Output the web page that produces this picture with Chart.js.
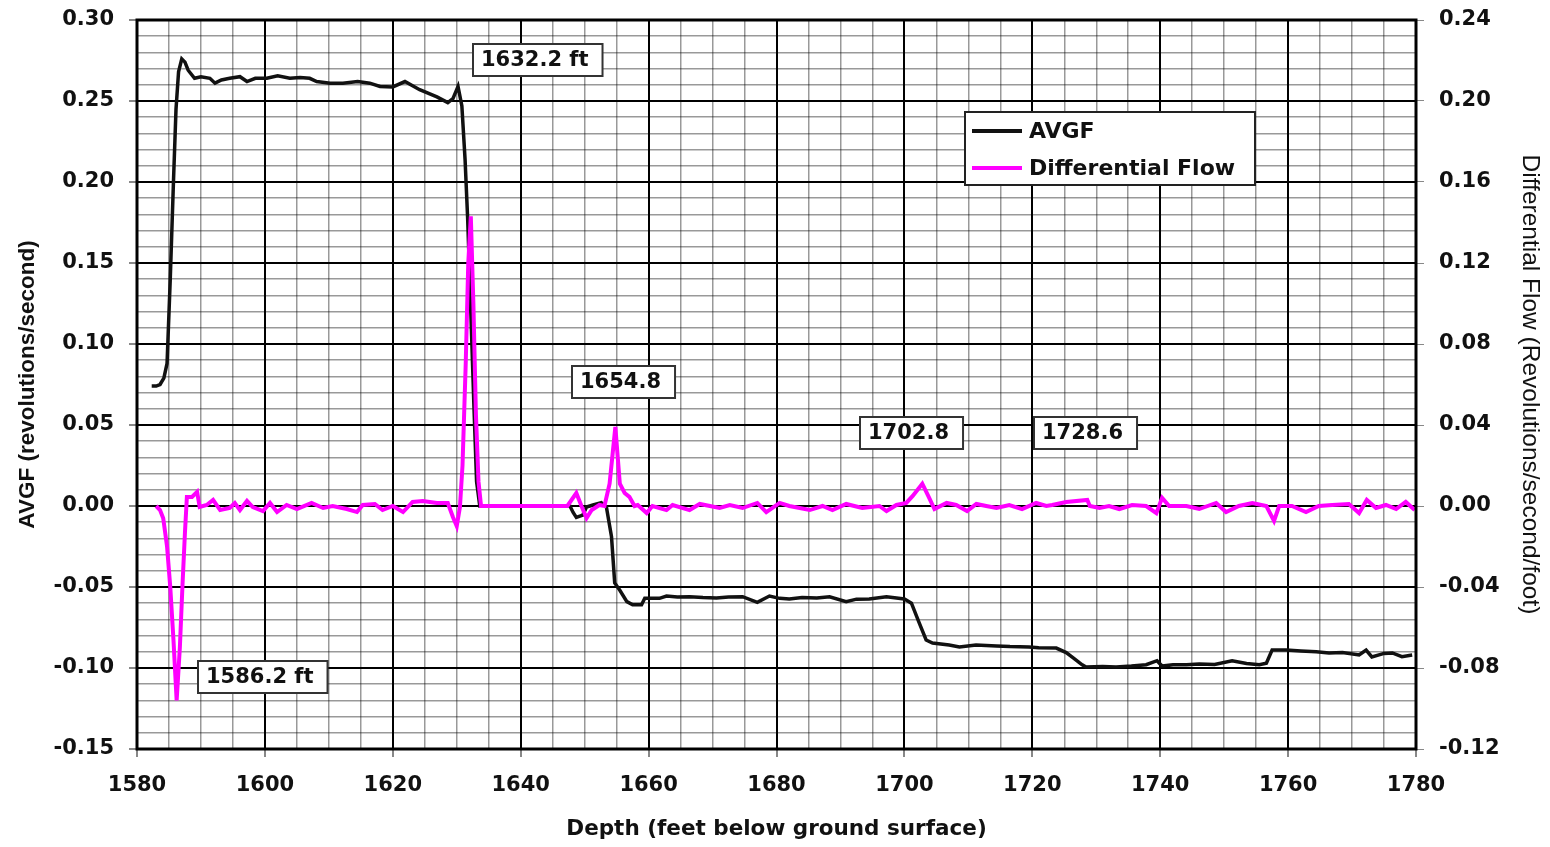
<!DOCTYPE html>
<html>
<head>
<meta charset="utf-8">
<script src="https://cdn.jsdelivr.net/npm/chart.js@4.4.1/dist/chart.umd.min.js"></script>
<style>
    body { margin: 0; background: #fff; }
    .contenedor { width: 1550px; height: 847px; position: relative; }
</style>
</head>
<body>
<div class="contenedor"><canvas id="grafico"></canvas></div>
<script>
//Datos AVGF (profundidad en pies, revoluciones/segundo)
const profundidadAvgf = [
    1582.3, 1583.0, 1583.6, 1584.2, 1584.7, 1585.2, 1585.7, 1586.1, 1586.5, 1587.0,
    1587.5, 1588.0, 1589.0, 1590.0, 1591.4, 1592.2, 1593.2, 1594.5, 1596.1, 1597.2,
    1598.5, 1600.3, 1602.0, 1603.9, 1605.5, 1607.0, 1608.1, 1610.2, 1612.2, 1614.5,
    1616.4, 1618.0, 1620.0, 1621.9, 1624.2, 1626.9, 1628.6, 1629.4, 1630.2, 1630.8,
    1631.3, 1631.7, 1632.2, 1632.7, 1633.1, 1633.6, 1640.0, 1647.7, 1648.2, 1648.7,
    1649.7, 1650.3, 1651.3, 1652.6, 1653.4, 1654.2, 1654.7, 1655.5, 1656.6, 1657.5,
    1658.9, 1659.4, 1661.7, 1662.8, 1664.5, 1666.4, 1668.5, 1670.6, 1672.5, 1674.7,
    1677.0, 1678.9, 1680.5, 1682.0, 1684.0, 1686.3, 1688.3, 1690.9, 1692.5, 1694.5,
    1697.2, 1700.0, 1701.1, 1702.3, 1703.4, 1704.4, 1707.0, 1708.6, 1711.2, 1714.4,
    1716.5, 1719.5, 1721.0, 1723.75, 1725.3, 1726.5, 1727.8, 1728.4, 1731.0, 1733.1,
    1735.5, 1737.8, 1739.5, 1740.3, 1742.0, 1744.1, 1746.1, 1748.5, 1751.25, 1753.5,
    1755.5, 1756.6, 1757.5, 1759.7, 1762.0, 1764.4, 1766.4, 1768.5, 1771.1, 1772.2,
    1773.1, 1775.0, 1776.3, 1777.8, 1779.4
];
const valoresAvgf = [
    0.074, 0.074, 0.075, 0.079, 0.088, 0.140, 0.200, 0.245, 0.268, 0.276,
    0.274, 0.269, 0.264, 0.265, 0.264, 0.261, 0.263, 0.264, 0.265, 0.262,
    0.264, 0.264, 0.2655, 0.264, 0.2645, 0.264, 0.262, 0.261, 0.261, 0.262,
    0.261, 0.259, 0.2587, 0.262, 0.257, 0.2525, 0.249, 0.2515, 0.259, 0.247,
    0.214, 0.178, 0.12, 0.06, 0.015, 0.0, 0.0, 0.0, -0.004, -0.007,
    -0.0056, -0.0006, 0.0006, 0.002, -0.0006, -0.019, -0.0475, -0.052, -0.059, -0.061,
    -0.061, -0.057, -0.057, -0.0556, -0.0562, -0.056, -0.0565, -0.0568, -0.0562, -0.056,
    -0.0595, -0.0556, -0.057, -0.0574, -0.0565, -0.0568, -0.056, -0.059, -0.0575, -0.0574,
    -0.056, -0.0574, -0.06, -0.072, -0.0827, -0.0846, -0.0858, -0.087, -0.0858, -0.0864,
    -0.0868, -0.087, -0.0875, -0.0877, -0.0905, -0.094, -0.098, -0.0994, -0.099, -0.0994,
    -0.0988, -0.098, -0.0955, -0.0988, -0.098, -0.098, -0.0975, -0.0978, -0.0955, -0.0972,
    -0.098, -0.097, -0.0889, -0.0889, -0.0895, -0.09, -0.0907, -0.0905, -0.092, -0.0889,
    -0.0932, -0.091, -0.0907, -0.093, -0.092
];

//Datos flujo diferencial (revoluciones/segundo/pie)
const profundidadFlujo = [
    1583.0, 1583.6, 1584.1, 1584.7, 1585.2, 1585.7, 1586.2, 1586.7, 1587.1, 1587.5,
    1587.8, 1588.6, 1589.4, 1589.8, 1590.9, 1591.9, 1593.0, 1594.5, 1595.3, 1596.1,
    1597.2, 1598.1, 1599.7, 1600.8, 1601.9, 1603.4, 1605.0, 1607.3, 1609.1, 1610.6,
    1612.8, 1614.4, 1615.3, 1617.2, 1618.4, 1620.0, 1621.6, 1623.1, 1624.7, 1626.9,
    1628.6, 1629.4, 1630.0, 1630.5, 1630.9, 1631.4, 1631.8, 1632.2, 1632.6, 1633.0,
    1633.4, 1633.8, 1647.3, 1648.7, 1649.5, 1650.3, 1651.1, 1652.3, 1653.1, 1653.9,
    1654.8, 1655.5, 1656.25, 1657.0, 1657.8, 1658.3, 1659.7, 1660.6, 1662.8, 1663.75,
    1666.4, 1668.0, 1671.1, 1672.7, 1674.7, 1677.0, 1678.4, 1680.5, 1682.0, 1685.2,
    1687.2, 1688.75, 1690.9, 1693.4, 1696.1, 1697.2, 1698.75, 1700.3, 1701.3, 1702.8,
    1703.8, 1704.7, 1706.6, 1708.1, 1709.8, 1711.25, 1712.8, 1714.4, 1716.4, 1718.4,
    1720.6, 1722.2, 1723.1, 1725.3, 1728.6, 1729.0, 1730.5, 1732.0, 1733.6, 1735.6,
    1737.8, 1739.4, 1740.3, 1741.4, 1744.1, 1746.1, 1748.75, 1750.3, 1752.3, 1754.4,
    1756.6, 1757.8, 1758.6, 1760.6, 1762.8, 1764.8, 1766.9, 1769.5, 1771.1, 1772.3,
    1773.75, 1775.3, 1776.9, 1778.4, 1779.8
];
const valoresFlujo = [
    0.0, -0.002, -0.006, -0.02, -0.04, -0.066, -0.096, -0.07, -0.04, -0.013,
    0.0045, 0.0045, 0.007, -0.0005, 0.0005, 0.003, -0.002, -0.001, 0.0015, -0.002,
    0.0025, -0.0005, -0.0025, 0.0015, -0.003, 0.0005, -0.0015, 0.0015, -0.001, 0.0,
    -0.0015, -0.003, 0.0005, 0.001, -0.002, 0.0, -0.003, 0.002, 0.0025, 0.0015,
    0.0015, -0.0054, -0.0099, -0.0005, 0.02, 0.07, 0.12, 0.143, 0.10, 0.045,
    0.012, 0.0, 0.0, 0.0064, 0.0, -0.006, -0.002, 0.0005, 0.0, 0.011,
    0.039, 0.011, 0.0064, 0.0045, 0.0, 0.0005, -0.0035, 0.0, -0.002, 0.0005,
    -0.002, 0.001, -0.001, 0.0005, -0.001, 0.0015, -0.003, 0.0015, 0.0, -0.002,
    0.0, -0.002, 0.001, -0.001, 0.0, -0.0025, 0.0005, 0.0015, 0.005, 0.011,
    0.0045, -0.0015, 0.0015, 0.0005, -0.0025, 0.001, 0.0, -0.001, 0.0005, -0.0015,
    0.0015, 0.0, 0.0005, 0.002, 0.003, 0.0, -0.001, 0.0, -0.0015, 0.0005,
    0.0, -0.0035, 0.004, 0.0, 0.0, -0.0015, 0.0015, -0.003, 0.0, 0.0015,
    0.0, -0.0074, 0.0, 0.0, -0.003, 0.0, 0.0005, 0.001, -0.0035, 0.003,
    -0.001, 0.0005, -0.0015, 0.002, -0.002
];

//Etiquetas de profundidad (borde izquierdo en pies, centro en eje AVGF)
const textosEtiqueta = ['1632.2 ft', '1586.2 ft', '1654.8', '1702.8', '1728.6'];
const profundidadEtiqueta = [1632.5, 1589.5, 1648.0, 1693.1, 1720.2];
const nivelEtiqueta = [0.2753, -0.1053, 0.0765, 0.045, 0.045];

const nombresSeries = ['AVGF', 'Differential Flow'];
const coloresSeries = ['#111111', '#ff00ff'];

const fuenteTicks = { family: 'DejaVu Sans', weight: 'bold', size: 21 };
//lineHeight bajo para que las etiquetas del eje Y no empujen el area del grafico
const fuenteTicksY = { family: 'DejaVu Sans', weight: 'bold', size: 21, lineHeight: 0.4 };
const fuenteCaja = '700 21px "DejaVu Sans"';
const fuenteLeyenda = '700 22px "DejaVu Sans"';

function esMayor(valor, paso) {
    return Math.abs(Math.round(valor * 1000) % Math.round(paso * 1000)) === 0;
}

function formato(valor) {
    return (Math.abs(valor) < 1e-9 ? 0 : valor).toFixed(2);
}

function juntar(xs, ys) {
    return xs.map((x, i) => ({ x: x, y: ys[i] }));
}

//Marco, cajas de texto y leyenda
const extras = {
    id: 'extras',
    afterDatasetsDraw(chart) {
        const ctx = chart.ctx;
        const area = chart.chartArea;
        const ejeX = chart.scales.x;
        const ejeY = chart.scales.y;
        ctx.save();

        ctx.strokeStyle = '#000';
        ctx.lineWidth = 3;
        ctx.strokeRect(area.left, area.top, area.right - area.left, area.bottom - area.top);

        ctx.font = fuenteCaja;
        ctx.textBaseline = 'middle';
        ctx.textAlign = 'left';
        textosEtiqueta.forEach((texto, i) => {
            const x = Math.round(ejeX.getPixelForValue(profundidadEtiqueta[i]));
            const yc = Math.round(ejeY.getPixelForValue(nivelEtiqueta[i]));
            const ancho = ctx.measureText(texto).width + 22;
            ctx.fillStyle = '#fff';
            ctx.fillRect(x, yc - 16, ancho, 32);
            ctx.strokeStyle = '#333';
            ctx.lineWidth = 2;
            ctx.strokeRect(x, yc - 16, ancho, 32);
            ctx.fillStyle = '#111';
            ctx.fillText(texto, x + 8, yc + 1);
        });

        const lx = area.right - 451;
        const ly = area.top + 92;
        ctx.fillStyle = '#fff';
        ctx.fillRect(lx, ly, 290, 73);
        ctx.strokeStyle = '#222';
        ctx.lineWidth = 2;
        ctx.strokeRect(lx, ly, 290, 73);
        ctx.font = fuenteLeyenda;
        nombresSeries.forEach((nombre, i) => {
            const yl = ly + 19 + i * 37;
            ctx.strokeStyle = coloresSeries[i];
            ctx.lineWidth = 4;
            ctx.beginPath();
            ctx.moveTo(lx + 7, yl);
            ctx.lineTo(lx + 57, yl);
            ctx.stroke();
            ctx.fillStyle = '#111';
            ctx.fillText(nombre, lx + 64, yl + 1);
        });
        ctx.restore();
    }
};

function crearGrafico(contenedor) {
    new Chart(contenedor, {
        type: 'line',
        data: {
            datasets: [
                {
                    label: nombresSeries[1],
                    data: juntar(profundidadFlujo, valoresFlujo),
                    yAxisID: 'y2',
                    borderColor: coloresSeries[1],
                    borderWidth: 4,
                    pointRadius: 0,
                    tension: 0,
                    order: 1
                },
                {
                    label: nombresSeries[0],
                    data: juntar(profundidadAvgf, valoresAvgf),
                    yAxisID: 'y',
                    borderColor: coloresSeries[0],
                    borderWidth: 3.5,
                    pointRadius: 0,
                    tension: 0,
                    order: 2
                }
            ]
        },
        options: {
            responsive: true,
            maintainAspectRatio: false,
            animation: false,
            layout: { padding: { top: 20, left: 0, right: 0, bottom: 0 } },
            plugins: {
                legend: { display: false },
                tooltip: { enabled: false }
            },
            scales: {
                x: {
                    type: 'linear',
                    min: 1580,
                    max: 1780,
                    afterFit: eje => { eje.height = 98; },
                    ticks: {
                        stepSize: 5,
                        maxTicksLimit: 100,
                        autoSkip: false,
                        maxRotation: 0,
                        padding: 16,
                        color: '#111',
                        font: fuenteTicks,
                        callback: v => esMayor(v, 20) ? String(v) : ''
                    },
                    grid: {
                        color: c => esMayor(c.tick.value, 20) ? '#000' : 'rgba(0,0,0,0.4)',
                        lineWidth: c => esMayor(c.tick.value, 20) ? 2 : 1.5,
                        tickColor: c => esMayor(c.tick.value, 20) ? '#888' : 'transparent',
                        tickLength: 8
                    },
                    border: { display: false },
                    title: {
                        display: true,
                        text: 'Depth (feet below ground surface)',
                        color: '#111',
                        font: { family: 'DejaVu Sans', weight: 'bold', size: 21.5 },
                        padding: { top: 0, bottom: 5 }
                    }
                },
                y: {
                    position: 'left',
                    min: -0.15,
                    max: 0.30,
                    afterFit: eje => { eje.width = 137; },
                    ticks: {
                        stepSize: 0.01,
                        maxTicksLimit: 100,
                        autoSkip: false,
                        padding: 15,
                        color: '#111',
                        font: fuenteTicksY,
                        callback: v => esMayor(v, 0.05) ? formato(v) : ''
                    },
                    grid: {
                        color: c => esMayor(c.tick.value, 0.05) ? '#000' : 'rgba(0,0,0,0.4)',
                        lineWidth: c => esMayor(c.tick.value, 0.05) ? 2 : 1.5,
                        tickColor: c => esMayor(c.tick.value, 0.05) ? '#888' : 'transparent',
                        tickLength: 8
                    },
                    border: { display: false },
                    title: {
                        display: true,
                        text: 'AVGF (revolutions/second)',
                        color: '#111',
                        font: { family: 'Liberation Sans', weight: 'bold', size: 22.5 },
                        padding: { top: 14, bottom: 0 }
                    }
                },
                y2: {
                    position: 'right',
                    min: -0.12,
                    max: 0.24,
                    afterFit: eje => { eje.width = 134; },
                    ticks: {
                        stepSize: 0.04,
                        maxTicksLimit: 100,
                        autoSkip: false,
                        padding: 15,
                        color: '#111',
                        font: fuenteTicksY,
                        callback: v => formato(v)
                    },
                    grid: {
                        drawOnChartArea: false,
                        tickColor: '#888',
                        tickLength: 8
                    },
                    border: { display: false },
                    title: {
                        display: true,
                        text: 'Differential Flow (Revolutions/second/foot)',
                        color: '#111',
                        font: { family: 'Liberation Sans', size: 24.5 },
                        padding: { top: 6, bottom: 0 }
                    }
                }
            }
        },
        plugins: [extras]
    });
}

crearGrafico(document.getElementById('grafico'));
</script>
</body>
</html>
